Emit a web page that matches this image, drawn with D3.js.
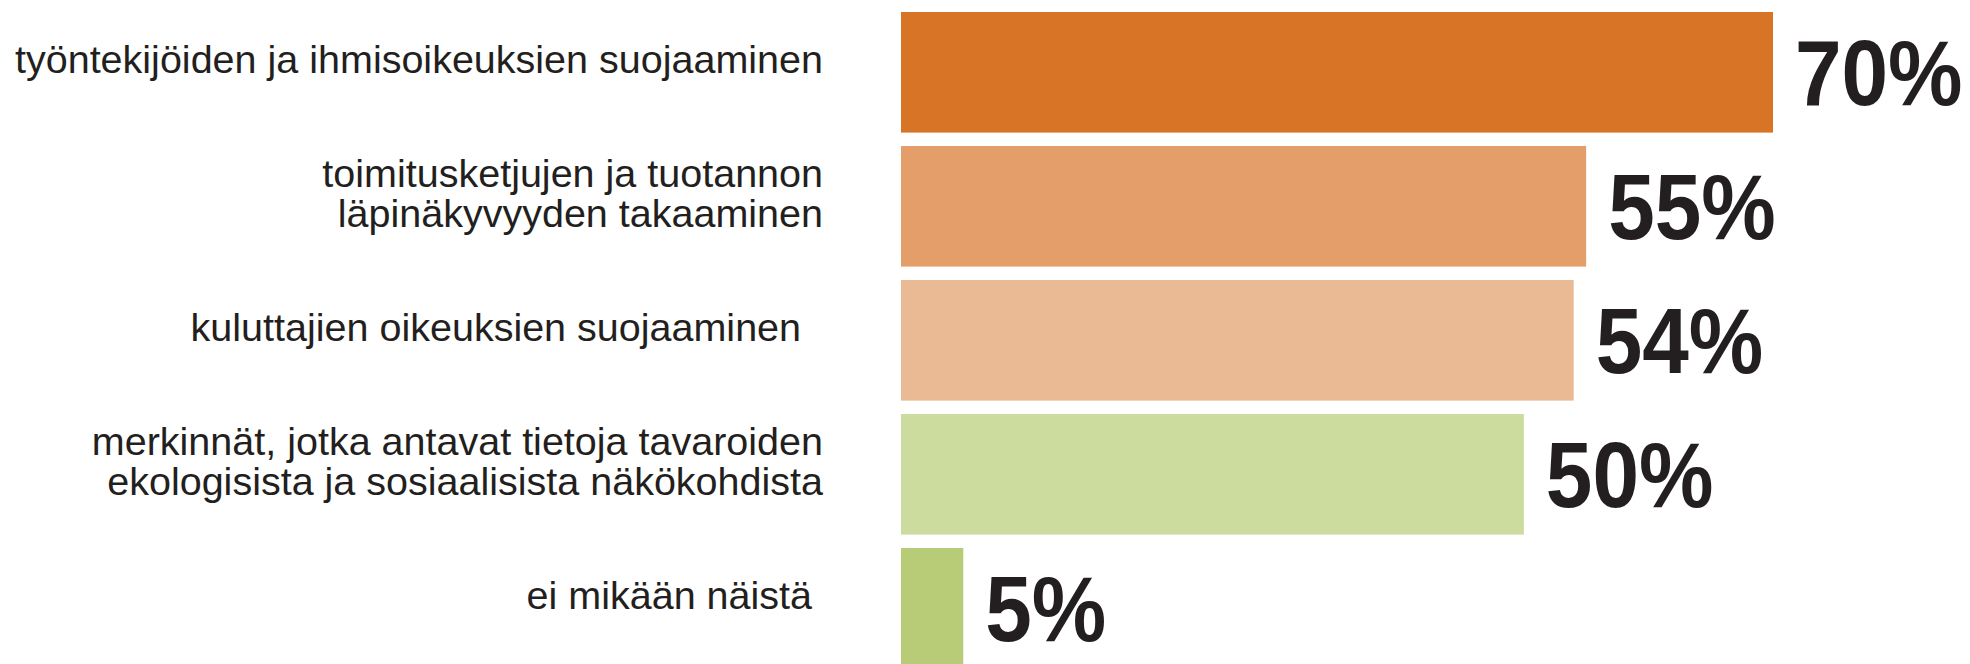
<!DOCTYPE html>
<html>
<head>
<meta charset="utf-8">
<script src="https://cdn.jsdelivr.net/npm/d3@7"></script>
<style>
  body { margin: 0; background: #fff; }
  svg { display: block; }
  .cat-label { font-family: 'Liberation Sans', Arial, sans-serif; fill: #231f20; white-space: pre; }
  .val-label { font-family: 'Liberation Sans', Arial, sans-serif; font-weight: bold; fill: #231f20; }
</style>
</head>
<body>
<div id="chart"></div>
<script>
// category labels, one array of lines per bar
const categories = [
    ['työntekijöiden ja ihmisoikeuksien suojaaminen'],
    ['toimitusketjujen ja tuotannon', 'läpinäkyvyyden takaaminen'],
    ['kuluttajien oikeuksien suojaaminen  '],
    ['merkinnät, jotka antavat tietoja tavaroiden', 'ekologisista ja sosiaalisista näkökohdista'],
    ['ei mikään näistä ']
];
const values = [70, 55, 54, 50, 5];
const barColors = ['#d77426', '#e39e6a', '#eaba94', '#ccdb9e', '#b8cb77'];

const width = 1970;
const height = 664;
const margin = { top: 12, left: 901 };

const svg = d3.select('#chart')
    .append('svg')
    .attr('width', width)
    .attr('height', height);

const ids = d3.range(values.length);

// horizontal value scale (percent)
const x = d3.scaleLinear()
    .domain([0, 70])
    .range([margin.left, 1773]);

// one band per category
const y = d3.scaleBand()
    .domain(ids)
    .range([margin.top, 668.6])
    .paddingInner(0.1)
    .paddingOuter(0);

// bars
svg.selectAll('rect.bar')
    .data(ids)
    .enter()
    .append('rect')
    .attr('class', 'bar')
    .attr('x', x(0))
    .attr('y', i => y(i))
    .attr('width', i => x(values[i]) - x(0))
    .attr('height', y.bandwidth())
    .attr('fill', i => barColors[i]);

// value labels (slightly condensed bold)
svg.selectAll('text.val-label')
    .data(ids)
    .enter()
    .append('text')
    .attr('class', 'val-label')
    .attr('transform', i => `translate(${x(values[i]) + 22},${y(i) + y.bandwidth() / 2 + 33}) scale(0.91,1)`)
    .style('font-size', '92px')
    .text(i => values[i] + '%');

// category labels, right aligned
const lineGap = 40;
const catText = svg.selectAll('text.cat-label')
    .data(ids)
    .enter()
    .append('text')
    .attr('class', 'cat-label')
    .attr('text-anchor', 'end')
    .style('font-size', '39.5px');

catText.each(function(i) {
    const lines = categories[i];
    const cy = y(i) + y.bandwidth() / 2;
    d3.select(this).selectAll('tspan')
        .data(lines)
        .enter()
        .append('tspan')
        .attr('x', 823)
        .attr('y', (d, k) => cy + (k - (lines.length - 1) / 2) * lineGap + 1)
        .text(d => d);
});
</script>
</body>
</html>
